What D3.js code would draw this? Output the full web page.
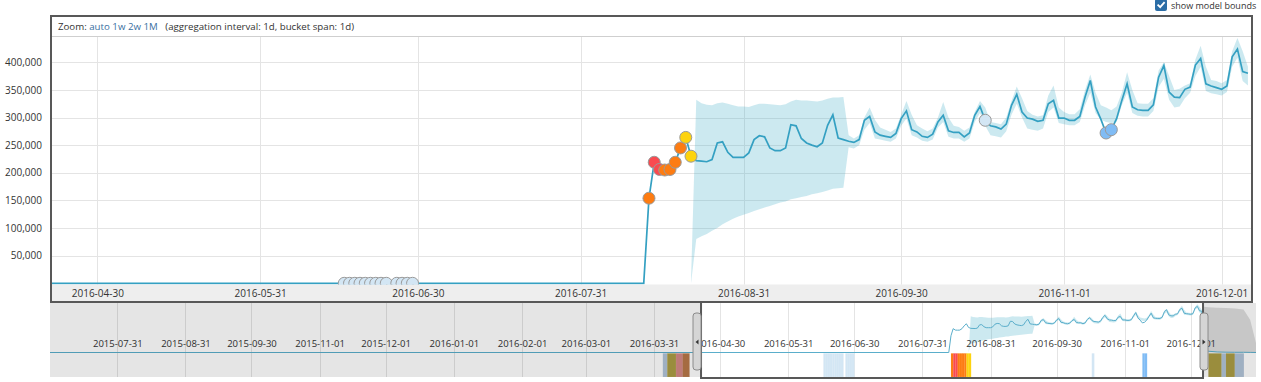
<!DOCTYPE html>
<html lang="en">
<head>
    <meta charset="UTF-8">
    <title>Single Metric Viewer</title>
    <script src="https://d3js.org/d3.v7.min.js"></script>
    <style>
        body {
            margin: 0;
            background: #fff;
            font-family: "Open Sans", sans-serif;
        }
        svg { display: block; }
        .axis text { font-family: "Open Sans", sans-serif; fill: #333; }
        .axis path { display: none; }
        .grid line { stroke: #e4e4e4; stroke-width: 1; }
        .values-line { fill: none; stroke: #34a0c2; stroke-width: 1.7; }
        .bounds { fill: #32a7c2; fill-opacity: 0.25; }
        .anomaly { stroke: #9a9a9a; stroke-width: 1; }
    </style>
</head>
<body>
    <svg id="chart" width="1261" height="382"></svg>

    <script>
        // ---- data (values in thousands) ----
        const flatStart = "2015-06-01";
        const lastZeroDate = "2016-08-13";
        const seriesStart = "2016-08-14";
        const seriesValues = [
            154, 219, 206, 205, 206, 219, 245, 264,
            230, 222, 221, 220, 224, 254, 256,
            237, 228, 228, 228, 236, 260, 267,
            265, 245, 240, 240, 245, 287, 285,
            262, 254, 250, 247, 254, 286, 305,
            263, 260, 257, 255, 260, 295, 302,
            274, 268, 266, 264, 271, 298, 312,
            278, 274, 266, 264, 270, 292, 304,
            276, 273, 273, 265, 272, 304, 320,
            295, 285, 283, 279, 288, 322, 342,
            310, 299, 297, 293, 295, 325, 331,
            299, 299, 295, 295, 302, 337, 367,
            319, 297, 272, 278, 298, 331, 361,
            319, 314, 313, 313, 323, 373, 394,
            346, 337, 336, 351, 355, 395, 407,
            361, 357, 354, 351, 357, 410, 424,
            383, 380
        ];

        const boundsStart = "2016-08-22";
        const upperValues = [
            5, 332, 326, 323, 322, 326, 327,
            325, 322, 320, 320, 319, 322, 325,
            325, 324, 323, 322, 324, 329, 332,
            331, 331, 330, 329, 331, 334, 336,
            336, 337, 268, 262, 268, 300, 318,
            296, 282, 278, 274, 280, 305, 330,
            305, 286, 280, 275, 280, 300, 328,
            300, 285, 283, 276, 282, 310, 330,
            318, 292, 290, 288, 300, 330, 356,
            335, 312, 305, 302, 304, 340, 358,
            318, 310, 306, 306, 315, 350, 378,
            345, 322, 318, 313, 320, 345, 382,
            350, 326, 325, 325, 335, 385, 400,
            375, 350, 352, 358, 362, 405, 430,
            392, 368, 366, 362, 368, 420, 444,
            420, 392
        ];
        const lowerValues = [
            0, 80, 85, 89, 95, 100, 107,
            112, 117, 121, 124, 127, 131, 134,
            137, 140, 143, 146, 148, 152, 154,
            156, 158, 161, 163, 165, 168, 171,
            172, 173, 246, 244, 250, 278, 290,
            262, 260, 258, 256, 262, 285, 298,
            268, 264, 258, 256, 260, 282, 292,
            265, 262, 262, 256, 262, 292, 308,
            285, 268, 266, 264, 275, 305, 325,
            300, 280, 278, 276, 280, 310, 318,
            290, 288, 286, 286, 292, 322, 345,
            308, 296, 292, 290, 292, 322, 345,
            308, 303, 302, 302, 312, 355, 370,
            332, 318, 320, 335, 345, 375, 392,
            348, 344, 342, 340, 346, 392, 408,
            366, 358
        ];

        // context chart after the end of the zoomed data
        const tailDates = ["2016-12-07", "2016-12-09", "2016-12-13", "2016-12-17", "2016-12-21", "2016-12-25", "2016-12-28", "2016-12-31"];
        const tailValues = [40, 12, 5, 3, 2, 2, 1, 0];
        const tailUpper = [420, 415, 412, 410, 405, 395, 300, 60];
        const tailLower = [0, 0, 0, 0, 0, 0, 0, 0];

        const anomalyDates = [
            "2016-06-17", "2016-06-18", "2016-06-19", "2016-06-20", "2016-06-21", "2016-06-22",
            "2016-06-23", "2016-06-24", "2016-06-25", "2016-06-27", "2016-06-28", "2016-06-29",
            "2016-06-30", "2016-08-14", "2016-08-15", "2016-08-16", "2016-08-17", "2016-08-18",
            "2016-08-19", "2016-08-20", "2016-08-21", "2016-08-22", "2016-10-17", "2016-11-09",
            "2016-11-10"
        ];
        const anomalySeverity = [
            "low", "low", "low", "low", "low", "low", "low", "low", "low", "low", "low", "low",
            "low", "major", "critical", "critical", "major", "major", "major", "major", "minor",
            "minor", "low", "warning", "warning"
        ];

        // extra swimlane cells outside the zoomed range
        const laneStart = ["2016-04-05", "2016-04-07", "2016-04-11", "2016-04-14", "2016-12-09", "2016-12-15", "2016-12-17", "2016-12-21"];
        const laneEnd = ["2016-04-07", "2016-04-11", "2016-04-14", "2016-04-17", "2016-12-15", "2016-12-17", "2016-12-21", "2016-12-25"];
        const laneSeverity = ["low", "minor", "critical", "major", "minor", "low", "minor", "low"];

        const yTicks = [50, 100, 150, 200, 250, 300, 350, 400];
        const mainTickDates = ["2016-05-01", "2016-06-01", "2016-07-01", "2016-08-01", "2016-09-01", "2016-10-01", "2016-11-01", "2016-12-01"];
        const mainTickLabels = ["2016-04-30", "2016-05-31", "2016-06-30", "2016-07-31", "2016-08-31", "2016-09-30", "2016-11-01", "2016-12-01"];
        const ctxTickDates = ["2015-08-01", "2015-09-01", "2015-10-01", "2015-11-01", "2015-12-01", "2016-01-01", "2016-02-01", "2016-03-01", "2016-04-01",
            "2016-05-01", "2016-06-01", "2016-07-01", "2016-08-01", "2016-09-01", "2016-10-01", "2016-11-01", "2016-12-01"];
        const ctxTickLabels = ["2015-07-31", "2015-08-31", "2015-09-30", "2015-11-01", "2015-12-01", "2016-01-01", "2016-02-01", "2016-03-01", "2016-03-31",
            "2016-04-30", "2016-05-31", "2016-06-30", "2016-07-31", "2016-08-31", "2016-09-30", "2016-11-01", "2016-12-01"];
        const zoomOptions = ["auto", "1w", "2w", "1M"];

        // ---- setup ----
        const parse = d3.utcParse("%Y-%m-%d");
        const parseT = d3.utcParse("%Y-%m-%dT%H:%M");
        const K = 1000;

        const severityColor = {
            critical: "#f94a50", major: "#fd7c12", minor: "#fdd30f", warning: "#80bcf5", low: "#d3e6f4"
        };
        const mutedColor = {
            critical: "#d58986", major: "#b87849", minor: "#ac9d45", warning: "#a6b9d2", low: "#b2c4d8"
        };

        const series = [{ date: parse(flatStart), value: 0 }, { date: parse(lastZeroDate), value: 0 }]
            .concat(seriesValues.map((v, i) => ({ date: d3.utcDay.offset(parse(seriesStart), i), value: v * K })));
        const bounds = upperValues.map((u, i) => ({
            date: d3.utcDay.offset(parse(boundsStart), i), upper: u * K, lower: lowerValues[i] * K
        }));
        const tail = tailDates.map((d, i) => ({
            date: parse(d), value: tailValues[i] * K, upper: tailUpper[i] * K, lower: tailLower[i] * K
        }));
        const valueByDay = new Map(series.map(d => [+d.date, d.value]));
        const anomalies = anomalyDates.map((d, i) => ({
            date: parse(d), value: valueByDay.get(+parse(d)) || 0, severity: anomalySeverity[i]
        }));

        const svg = d3.select("#chart");

        // main chart scales
        const plot = { left: 52, right: 1251, top: 37, bottom: 283.3 };
        const x = d3.scaleUtc()
            .domain([parseT("2016-04-22T09:00"), parseT("2016-12-06T14:00")])
            .range([plot.left, plot.right]);
        const y = d3.scaleLinear().domain([0, 445700]).range([plot.bottom, plot.top]);

        // context chart scales
        const ctx = { left: 50, right: 1256, top: 303, zero: 352.5, bottom: 377 };
        const cx = d3.scaleUtc()
            .domain([parseT("2015-07-01T10:00"), parseT("2016-12-30T16:00")])
            .range([ctx.left, ctx.right]);
        const cy = d3.scaleLinear().domain([0, 445700]).range([ctx.zero, 304]);

        const defs = svg.append("defs");
        defs.append("clipPath").attr("id", "mainClip").append("rect")
            .attr("x", plot.left).attr("y", plot.top)
            .attr("width", plot.right - plot.left).attr("height", 284.5 - plot.top);
        defs.append("clipPath").attr("id", "ctxClip").append("rect")
            .attr("x", ctx.left).attr("y", ctx.top)
            .attr("width", ctx.right - ctx.left).attr("height", ctx.bottom - ctx.top);

        // ---- checkbox ----
        svg.append("rect")
            .attr("x", 1155).attr("y", -1).attr("width", 12).attr("height", 12).attr("rx", 2)
            .attr("fill", "#2b6da6");
        svg.append("path")
            .attr("d", "M1157.6,4.6 L1160.2,7.2 L1164.6,2.2")
            .attr("fill", "none").attr("stroke", "#fff").attr("stroke-width", 1.8);
        svg.append("text")
            .attr("x", 1171).attr("y", 8.5)
            .attr("font-size", "9px").attr("fill", "#333")
            .text("show model bounds");

        // ---- main chart ----
        const main = svg.append("g");

        main.append("rect")
            .attr("x", plot.left).attr("y", 284.5)
            .attr("width", plot.right - plot.left).attr("height", 301 - 284.5)
            .attr("fill", "#eeeeee");

        main.append("g").attr("class", "grid")
            .selectAll("line.h").data(yTicks).join("line")
            .attr("x1", plot.left).attr("x2", plot.right)
            .attr("y1", d => Math.round(y(d * K)) + 0.5).attr("y2", d => Math.round(y(d * K)) + 0.5);
        main.append("g").attr("class", "grid")
            .selectAll("line.v").data(mainTickDates).join("line")
            .attr("x1", d => Math.round(x(parse(d))) + 0.5).attr("x2", d => Math.round(x(parse(d))) + 0.5)
            .attr("y1", plot.top).attr("y2", 284.5);

        const clipped = main.append("g").attr("clip-path", "url(#mainClip)");

        const area = d3.area()
            .x(d => x(d.date))
            .y0(d => y(d.lower))
            .y1(d => y(d.upper));
        clipped.append("path").datum(bounds).attr("class", "bounds").attr("d", area);

        const line = d3.line().x(d => x(d.date)).y(d => y(d.value));
        clipped.append("path").datum(series).attr("class", "values-line").attr("d", line);

        clipped.selectAll("circle.anomaly").data(anomalies).join("circle")
            .attr("class", "anomaly")
            .attr("cx", d => x(d.date))
            .attr("cy", d => y(d.value))
            .attr("r", 6)
            .attr("fill", d => severityColor[d.severity]);

        // x axis labels
        main.append("g").attr("class", "axis")
            .attr("transform", "translate(0,286)")
            .call(d3.axisBottom(x)
                .tickValues(mainTickDates.map(parse))
                .tickFormat((d, i) => mainTickLabels[i])
                .tickSize(0).tickPadding(4))
            .selectAll("text").attr("font-size", "10px");

        // y axis labels
        main.append("g").attr("class", "axis")
            .attr("transform", "translate(42,0)")
            .call(d3.axisLeft(y)
                .tickValues(yTicks.map(v => v * K))
                .tickFormat(d3.format(","))
                .tickSize(0).tickPadding(0))
            .selectAll("text").attr("font-size", "10px").attr("fill", "#444");

        // header with zoom links
        main.append("rect")
            .attr("x", plot.left).attr("y", 17).attr("width", plot.right - plot.left).attr("height", 19)
            .attr("fill", "#fff");
        main.append("line")
            .attr("x1", plot.left).attr("x2", plot.right).attr("y1", 36.5).attr("y2", 36.5)
            .attr("stroke", "#cfcfcf");
        const header = main.append("text")
            .attr("x", 58).attr("y", 30).attr("font-size", "9.7px").attr("fill", "#333")
            .style("white-space", "pre");
        header.append("tspan").text("Zoom: ");
        zoomOptions.forEach((z, i) => {
            header.append("tspan").attr("fill", "#3a6f9f").text(z + (i < zoomOptions.length - 1 ? " " : ""));
        });
        header.append("tspan").text("   (aggregation interval: 1d, bucket span: 1d)");

        main.append("rect")
            .attr("x", 51).attr("y", 16).attr("width", 1201).attr("height", 286)
            .attr("fill", "none").attr("stroke", "#585858").attr("stroke-width", 2);

        // ---- context chart ----
        const context = svg.append("g").attr("clip-path", "url(#ctxClip)");

        context.append("g").attr("class", "grid")
            .selectAll("line").data(ctxTickDates).join("line")
            .attr("x1", d => Math.round(cx(parse(d))) + 0.5).attr("x2", d => Math.round(cx(parse(d))) + 0.5)
            .attr("y1", ctx.top).attr("y2", ctx.bottom);

        const ctxArea = d3.area()
            .x(d => cx(d.date))
            .y0(d => cy(d.lower))
            .y1(d => cy(d.upper));
        context.append("path").datum(bounds).attr("class", "bounds").attr("d", ctxArea);
        context.append("path").datum(tail).attr("fill", "#b5b5b5").attr("fill-opacity", 0.45).attr("d", ctxArea);

        const ctxLine = d3.line().x(d => cx(d.date)).y(d => cy(d.value));
        context.append("path").datum(series.concat(tail))
            .attr("fill", "none").attr("stroke", "#5aaecb").attr("stroke-width", 1)
            .attr("d", ctxLine);

        context.append("g").attr("class", "axis")
            .attr("transform", `translate(0,${ctx.zero - 12})`)
            .call(d3.axisBottom(cx)
                .tickValues(ctxTickDates.map(parse))
                .tickFormat((d, i) => ctxTickLabels[i])
                .tickSize(0).tickPadding(0))
            .selectAll("text").attr("font-size", "9.5px");

        // swimlane
        const brushStart = x.domain()[0], brushEnd = x.domain()[1];
        const laneCells = anomalies.map(a => ({ start: a.date, end: d3.utcDay.offset(a.date, 1), severity: a.severity }))
            .concat(laneStart.map((s, i) => ({ start: parse(s), end: parse(laneEnd[i]), severity: laneSeverity[i] })));
        context.selectAll("rect.cell").data(laneCells).join("rect")
            .attr("class", "cell")
            .attr("x", d => cx(d.start))
            .attr("y", ctx.zero + 0.8)
            .attr("width", d => cx(d.end) - cx(d.start) + 0.4)
            .attr("height", ctx.bottom - ctx.zero - 0.8)
            .attr("fill", d => (d.start >= brushStart && d.start <= brushEnd) ? severityColor[d.severity] : mutedColor[d.severity])
            .attr("stroke", "#fff").attr("stroke-opacity", 0.3).attr("stroke-width", 0.3);

        // brush masks, border and handles
        const bx0 = cx(brushStart), bx1 = cx(brushEnd);
        context.append("rect")
            .attr("x", ctx.left).attr("y", ctx.top).attr("width", bx0 - ctx.left).attr("height", ctx.bottom - ctx.top)
            .attr("fill", "#000").attr("fill-opacity", 0.1);
        context.append("rect")
            .attr("x", bx1).attr("y", ctx.top).attr("width", ctx.right - bx1).attr("height", ctx.bottom - ctx.top)
            .attr("fill", "#000").attr("fill-opacity", 0.1);

        svg.append("rect")
            .attr("x", bx0).attr("y", 302).attr("width", bx1 - bx0).attr("height", 76)
            .attr("fill", "none").attr("stroke", "#585858").attr("stroke-width", 2);

        const handles = [{ x: bx0 - 8, dir: -1 }, { x: bx1 - 3, dir: 1 }];
        handles.forEach(h => {
            svg.append("rect")
                .attr("x", h.x).attr("y", 313).attr("width", 8).attr("height", 57).attr("rx", 3)
                .attr("fill", "#d5d5d5").attr("stroke", "#8c8c8c").attr("stroke-width", 1);
            const mx = h.x + 4, my = 342;
            svg.append("path")
                .attr("d", `M${mx + 1.5 * h.dir},${my} L${mx - 1.5 * h.dir},${my - 2.5} L${mx - 1.5 * h.dir},${my + 2.5} Z`)
                .attr("fill", "#333");
        });
    </script>
</body>
</html>
